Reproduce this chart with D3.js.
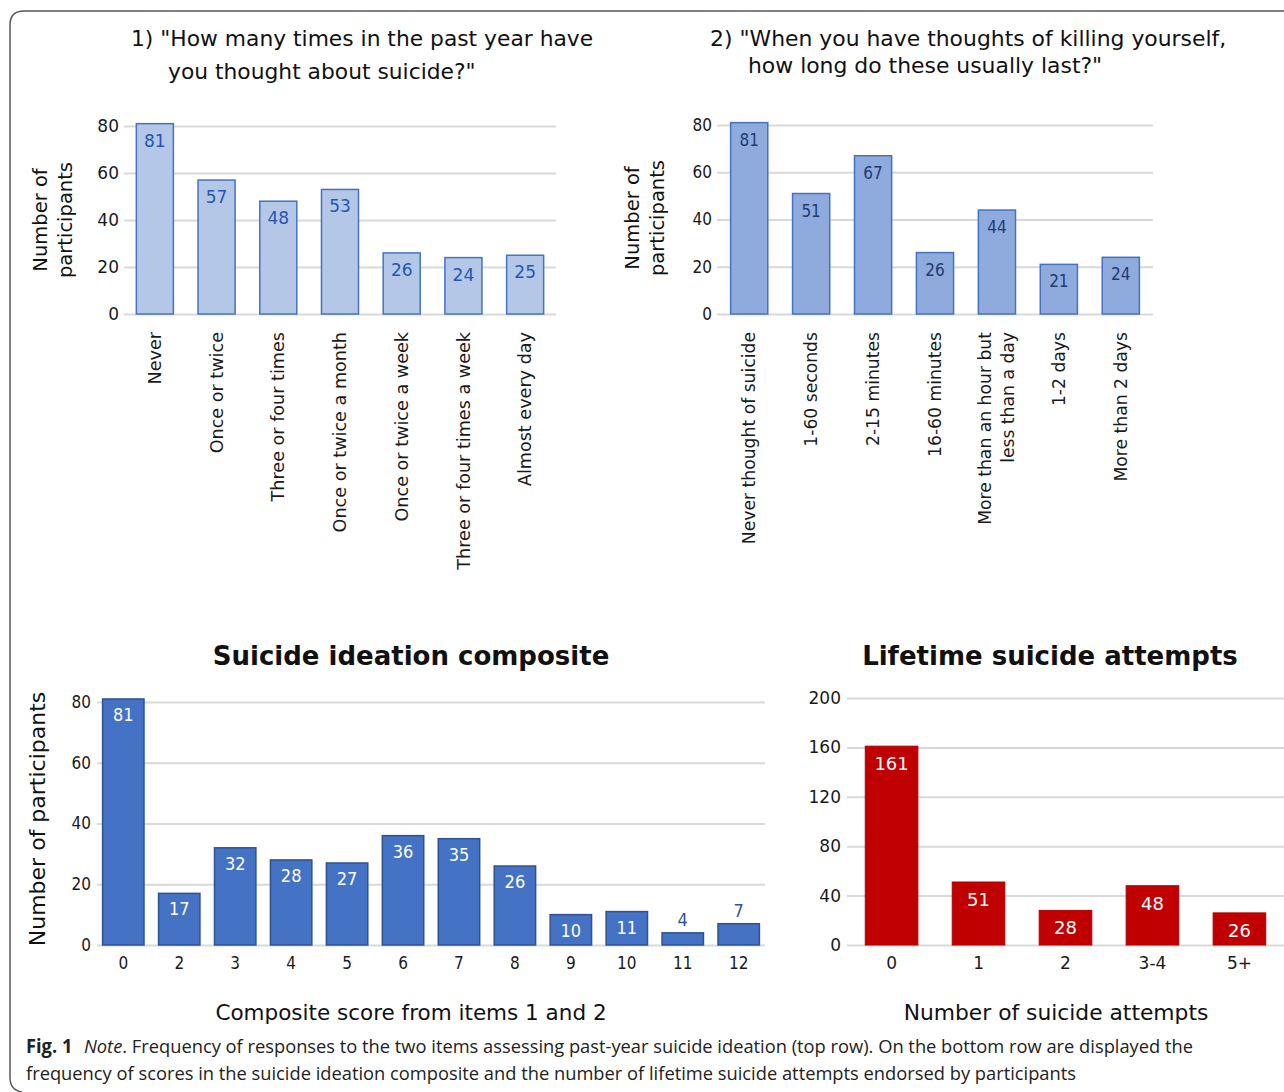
<!DOCTYPE html>
<html>
<head>
<meta charset="utf-8">
<script src="https://cdn.jsdelivr.net/npm/d3@7/dist/d3.min.js"></script>
<style>
  html, body { margin: 0; padding: 0; background: #fff; }
  svg text { font-family: "DejaVu Sans", Verdana, sans-serif; }
  svg text.caption { font-family: "Open Sans", "Noto Sans", sans-serif; }
</style>
</head>
<body>
<div id="chart"></div>
<script>
const q1Categories = ["Never", "Once or twice", "Three or four times", "Once or twice a month", "Once or twice a week", "Three or four times a week", "Almost every day"];
const q1Counts = [81, 57, 48, 53, 26, 24, 25];

const q2Categories = ["Never thought of suicide", "1-60 seconds", "2-15 minutes", "16-60 minutes", "More than an hour but\nless than a day", "1-2 days", "More than 2 days"];
const q2Counts = [81, 51, 67, 26, 44, 21, 24];

const compositeScores = ["0", "2", "3", "4", "5", "6", "7", "8", "9", "10", "11", "12"];
const compositeCounts = [81, 17, 32, 28, 27, 36, 35, 26, 10, 11, 4, 7];

const attemptCategories = ["0", "1", "2", "3-4", "5+"];
const attemptCounts = [161, 51, 28, 48, 26];

const participantTicks = [0, 20, 40, 60, 80];
const attemptTicks = [0, 40, 80, 120, 160, 200];

const width = 1284;
const height = 1092;

const svg = d3
  .select("#chart")
  .append("svg")
  .attr("width", width)
  .attr("height", height)
  .attr("viewBox", `0 0 ${width} ${height}`);

// figure frame (open on the right and bottom, like the cropped page)
svg
  .append("path")
  .attr("d", "M1284,11 L24,11 Q10,11 10,25 L10,1078 Q10,1090 22,1092")
  .attr("fill", "none")
  .attr("stroke", "#555")
  .attr("stroke-width", 1.5);

function drawPanel(cfg) {
  const x = d3
    .scaleBand()
    .domain(cfg.categories)
    .range(cfg.xRange)
    .paddingInner(cfg.paddingInner)
    .paddingOuter(cfg.paddingOuter);
  const y = d3.scaleLinear().domain([0, d3.max(cfg.ticks)]).range(cfg.yRange);
  const rows = cfg.categories.map((c, i) => ({ category: c, value: cfg.values[i] }));
  const g = svg.append("g");

  // gridlines + tick labels
  const yAxis = g
    .append("g")
    .attr("transform", `translate(${cfg.xRange[0]},0)`)
    .call(
      d3
        .axisLeft(y)
        .tickValues(cfg.ticks)
        .tickSizeInner(-(cfg.xRange[1] - cfg.xRange[0]))
        .tickSizeOuter(0)
        .tickPadding(cfg.tickPadding || 6)
    );
  yAxis.select(".domain").remove();
  yAxis.selectAll(".tick line").attr("stroke", "#d9d9d9").attr("stroke-width", 2);
  yAxis
    .selectAll(".tick text")
    .attr("fill", "#1a1a1a")
    .style("font-size", `${cfg.tickFont}px`)
    .style("font-stretch", cfg.tickStretch || null);

  // bars
  g.append("g")
    .selectAll("rect")
    .data(rows)
    .enter()
    .append("rect")
    .attr("x", (d) => x(d.category))
    .attr("y", (d) => y(d.value))
    .attr("width", x.bandwidth())
    .attr("height", (d) => y(0) - y(d.value))
    .attr("fill", cfg.fill)
    .attr("stroke", cfg.stroke || "none")
    .attr("stroke-width", cfg.strokeWidth || 0);

  // value labels
  g.append("g")
    .selectAll("text")
    .data(rows)
    .enter()
    .append("text")
    .attr("x", (d) => x(d.category) + x.bandwidth() / 2)
    .attr("y", (d) => {
      const top = y(d.value);
      return y(0) - top < 26 ? top - 7 : top + cfg.labelOffset;
    })
    .attr("text-anchor", "middle")
    .attr("fill", (d) => (y(0) - y(d.value) < 26 ? cfg.outsideLabelColor : cfg.labelColor))
    .style("font-size", `${cfg.labelFont}px`)
    .style("font-stretch", cfg.labelStretch || null)
    .text((d) => d.value);

  // category axis
  const xAxis = g
    .append("g")
    .attr("transform", `translate(0,${y(0)})`)
    .call(d3.axisBottom(x).tickSize(0).tickPadding(0));
  xAxis.select(".domain").remove();
  xAxis.selectAll(".tick text").remove();

  if (cfg.rotateLabels) {
    xAxis.selectAll(".tick").each(function (d) {
      const lines = d.split("\n");
      const t = d3
        .select(this)
        .append("text")
        .attr("transform", `translate(0,${cfg.labelTop - y(0)}) rotate(-90)`)
        .attr("text-anchor", "end")
        .attr("fill", "#1a1a1a")
        .style("font-size", `${cfg.catFont}px`);
      lines.forEach((line, i) => {
        t.append("tspan")
          .attr("x", 0)
          .attr("y", (i - (lines.length - 1) / 2) * 23)
          .attr("dy", "0.35em")
          .text(line);
      });
    });
  } else {
    xAxis
      .selectAll(".tick")
      .append("text")
      .attr("y", cfg.catOffset)
      .attr("text-anchor", "middle")
      .attr("fill", "#1a1a1a")
      .style("font-size", `${cfg.catFont}px`)
      .style("font-stretch", cfg.catStretch || null)
      .text((d) => d);
  }

  // titles
  cfg.title.forEach((t) => {
    svg
      .append("text")
      .attr("x", t.x)
      .attr("y", t.y)
      .attr("text-anchor", t.anchor || "start")
      .attr("fill", "#111")
      .style("font-size", `${t.size}px`)
      .style("font-weight", t.bold ? "bold" : null)
      .text(t.text);
  });

  cfg.yTitle.forEach((t) => {
    svg
      .append("text")
      .attr("transform", `translate(${t.x},${t.y}) rotate(-90)`)
      .attr("text-anchor", "middle")
      .attr("fill", "#111")
      .style("font-size", `${t.size}px`)
      .text(t.text);
  });

  if (cfg.xTitle) {
    svg
      .append("text")
      .attr("x", cfg.xTitle.x)
      .attr("y", cfg.xTitle.y)
      .attr("text-anchor", "middle")
      .attr("fill", "#111")
      .style("font-size", `${cfg.xTitle.size}px`)
      .text(cfg.xTitle.text);
  }
}

drawPanel({
  categories: q1Categories,
  values: q1Counts,
  ticks: participantTicks,
  xRange: [124, 556],
  yRange: [314, 126],
  paddingInner: 0.4,
  paddingOuter: 0.2,
  fill: "#b4c7e7",
  stroke: "#4472c4",
  strokeWidth: 1.5,
  labelColor: "#2457b0",
  outsideLabelColor: "#2457b0",
  labelOffset: 23,
  labelFont: 17,
  tickFont: 17,
  tickPadding: 5,
  rotateLabels: true,
  labelTop: 332,
  catFont: 17.6,
  title: [
    { text: '1) "How many times in the past year have', x: 131, y: 46, size: 21.8 },
    { text: 'you thought about suicide?"', x: 168, y: 79, size: 21.8 },
  ],
  yTitle: [
    { text: "Number of", x: 47, y: 220, size: 19.5 },
    { text: "participants", x: 72, y: 220, size: 19.5 },
  ],
});

drawPanel({
  categories: q2Categories,
  values: q2Counts,
  ticks: participantTicks,
  xRange: [717, 1153],
  yRange: [314, 125],
  paddingInner: 0.4,
  paddingOuter: 0.22,
  fill: "#8faadc",
  stroke: "#4472c4",
  strokeWidth: 1.5,
  labelColor: "#1f3b73",
  outsideLabelColor: "#1f3b73",
  labelOffset: 23,
  labelFont: 17,
  labelStretch: "semi-condensed",
  tickFont: 17,
  tickPadding: 5,
  tickStretch: "semi-condensed",
  rotateLabels: true,
  labelTop: 332,
  catFont: 17.2,
  title: [
    { text: '2) "When you have thoughts of killing yourself,', x: 710, y: 46, size: 21.9 },
    { text: 'how long do these usually last?"', x: 748, y: 73, size: 21.9 },
  ],
  yTitle: [
    { text: "Number of", x: 639, y: 218, size: 19.5 },
    { text: "participants", x: 664, y: 218, size: 19.5 },
  ],
});

drawPanel({
  categories: compositeScores,
  values: compositeCounts,
  ticks: participantTicks,
  xRange: [97, 765],
  yRange: [945, 702],
  paddingInner: 0.26,
  paddingOuter: 0.1,
  fill: "#4472c4",
  stroke: "#2f528f",
  strokeWidth: 1.5,
  labelColor: "#ffffff",
  outsideLabelColor: "#2f5597",
  labelOffset: 22,
  labelFont: 18,
  labelStretch: "semi-condensed",
  tickFont: 17,
  tickPadding: 6,
  tickStretch: "semi-condensed",
  rotateLabels: false,
  catOffset: 24,
  catFont: 17,
  catStretch: "semi-condensed",
  title: [{ text: "Suicide ideation composite", x: 411, y: 665, size: 26, bold: true, anchor: "middle" }],
  yTitle: [{ text: "Number of participants", x: 45, y: 819, size: 22 }],
  xTitle: { text: "Composite score from items 1 and 2", x: 411, y: 1020, size: 21.5 },
});

drawPanel({
  categories: attemptCategories,
  values: attemptCounts,
  ticks: attemptTicks,
  xRange: [847, 1284],
  yRange: [945, 698],
  paddingInner: 0.395,
  paddingOuter: 0.21,
  fill: "#c00000",
  stroke: "#b00000",
  strokeWidth: 1,
  labelColor: "#ffffff",
  outsideLabelColor: "#c00000",
  labelOffset: 24,
  labelFont: 18,
  tickFont: 17,
  tickPadding: 6,
  rotateLabels: false,
  catOffset: 24,
  catFont: 17,
  title: [{ text: "Lifetime suicide attempts", x: 1050, y: 665, size: 26, bold: true, anchor: "middle" }],
  yTitle: [],
  xTitle: { text: "Number of suicide attempts", x: 1056, y: 1020, size: 21.8 },
});

// caption
const caption = svg
  .append("text")
  .attr("class", "caption")
  .attr("x", 26)
  .attr("y", 1053)
  .attr("fill", "#222")
  .attr("textLength", 1167)
  .attr("lengthAdjust", "spacingAndGlyphs")
  .style("font-size", "19px");
caption.append("tspan").style("font-weight", "bold").text("Fig. 1");
caption.append("tspan").attr("dx", 12).style("font-style", "italic").text("Note");
caption
  .append("tspan")
  .text(". Frequency of responses to the two items assessing past-year suicide ideation (top row). On the bottom row are displayed the");

svg
  .append("text")
  .attr("class", "caption")
  .attr("x", 26)
  .attr("y", 1080)
  .attr("fill", "#222")
  .attr("textLength", 1050)
  .attr("lengthAdjust", "spacingAndGlyphs")
  .style("font-size", "19px")
  .text("frequency of scores in the suicide ideation composite and the number of lifetime suicide attempts endorsed by participants");
</script>
</body>
</html>
